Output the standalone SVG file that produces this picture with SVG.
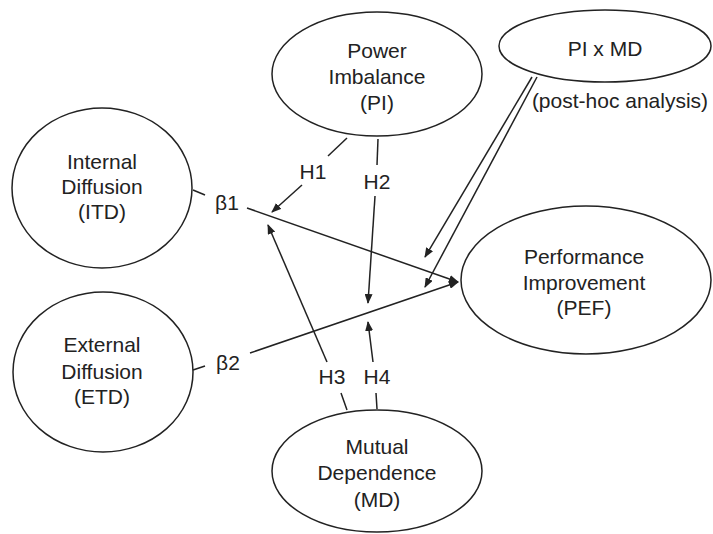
<svg xmlns="http://www.w3.org/2000/svg" width="713" height="534" viewBox="0 0 713 534">
<style>
.n{fill:#fff;stroke:#222;stroke-width:1.5}
.t{font-family:"Liberation Sans",Arial,sans-serif;font-size:21px;fill:#222;text-anchor:middle}
.c{fill:none;stroke:#222;stroke-width:1.5}
</style>
<defs>
<marker id="ah" markerWidth="10" markerHeight="8" refX="9" refY="4" orient="auto" markerUnits="userSpaceOnUse">
<path d="M0,0 L10,4 L0,8 Z" fill="#222"/>
</marker>
</defs>
<rect width="713" height="534" fill="#fff"/>
<g id="connectors">
<path class="c" d="M193,190 L205,195"/>
<path class="c" d="M247,208 L458,282" marker-end="url(#ah)"/>
<path class="c" d="M193,370 L205,366"/>
<path class="c" d="M250,353 L458,282" marker-end="url(#ah)"/>
<path class="c" d="M347,138 L328,156"/>
<path class="c" d="M302,185 L272,212" marker-end="url(#ah)"/>
<path class="c" d="M378,139 L377,165"/>
<path class="c" d="M375,196 L368,303" marker-end="url(#ah)"/>
<path class="c" d="M347,410 L341,393"/>
<path class="c" d="M327,362 L268,225" marker-end="url(#ah)"/>
<path class="c" d="M377,409 L376,393"/>
<path class="c" d="M373,362 L368,322" marker-end="url(#ah)"/>
<path class="c" d="M532,77 L425,257" marker-end="url(#ah)"/>
<path class="c" d="M537,77 L425,287" marker-end="url(#ah)"/>
<text class="t" x="313" y="179">H1</text>
<text class="t" x="377" y="189">H2</text>
<text class="t" x="332" y="384">H3</text>
<text class="t" x="377" y="384">H4</text>
<text class="t" x="227" y="210">β1</text>
<text class="t" x="228" y="370">β2</text>
</g>
<g id="PI">
<ellipse class="n" cx="377" cy="74" rx="105" ry="62"/>
<text class="t" x="377" y="58">Power</text>
<text class="t" x="377" y="84">Imbalance</text>
<text class="t" x="377" y="110">(PI)</text>
</g>
<g id="PIxMD">
<ellipse class="n" cx="605" cy="46" rx="106" ry="36"/>
<text class="t" x="605" y="56">PI x MD</text>
<text class="t" x="620" y="108">(post-hoc analysis)</text>
</g>
<g id="ITD">
<ellipse class="n" cx="102" cy="188" rx="90" ry="80"/>
<text class="t" x="102" y="169">Internal</text>
<text class="t" x="102" y="194">Diffusion</text>
<text class="t" x="102" y="219">(ITD)</text>
</g>
<g id="ETD">
<ellipse class="n" cx="103" cy="372" rx="90" ry="80"/>
<text class="t" x="102" y="352">External</text>
<text class="t" x="102" y="379">Diffusion</text>
<text class="t" x="102" y="404">(ETD)</text>
</g>
<g id="PEF">
<ellipse class="n" cx="586" cy="280" rx="125" ry="74"/>
<text class="t" x="584" y="264">Performance</text>
<text class="t" x="584" y="290">Improvement</text>
<text class="t" x="584" y="315">(PEF)</text>
</g>
<g id="MD">
<ellipse class="n" cx="377" cy="471" rx="105" ry="61"/>
<text class="t" x="377" y="454">Mutual</text>
<text class="t" x="377" y="480">Dependence</text>
<text class="t" x="377" y="507">(MD)</text>
</g>
</svg>
